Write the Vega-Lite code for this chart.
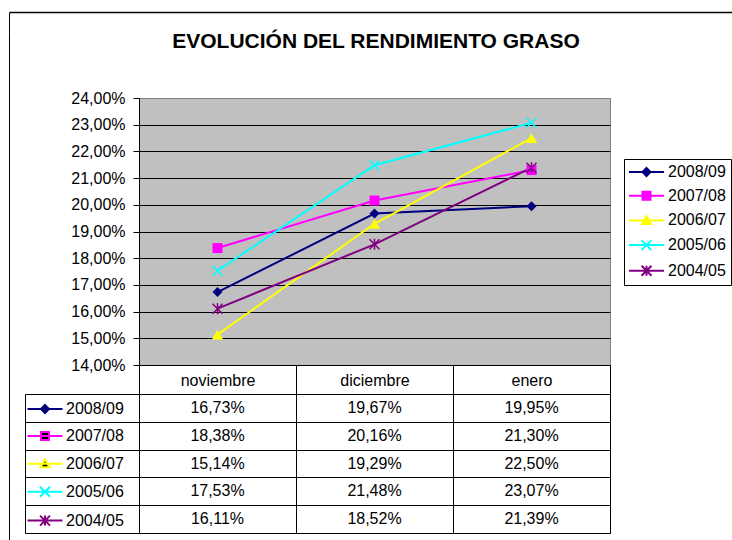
{
  "$schema": "https://vega.github.io/schema/vega-lite/v6.json",
  "padding": {"left": 8, "top": 12, "right": 0, "bottom": 0},
  "background": "white",
  "config": {
    "font": "Liberation Sans",
    "locale": {"number": {"decimal": ",", "thousands": ".", "grouping": [3], "currency": ["", " €"]}},
    "view": {"stroke": null},
    "axis": {"labelFont": "Liberation Sans", "labelColor": "black", "labelFontSize": 16, "domainColor": "black", "tickColor": "black", "gridColor": "black", "gridOpacity": 1, "domainWidth": 1, "tickWidth": 1, "gridWidth": 1},
    "legend": {"labelFont": "Liberation Sans", "labelFontSize": 16, "labelColor": "black"}
  },
  "datasets": {
    "tabla": [
      {"serie": "2008/09", "mes": "noviembre", "valor": 0.1673},
      {"serie": "2008/09", "mes": "diciembre", "valor": 0.1967},
      {"serie": "2008/09", "mes": "enero", "valor": 0.1995},
      {"serie": "2007/08", "mes": "noviembre", "valor": 0.1838},
      {"serie": "2007/08", "mes": "diciembre", "valor": 0.2016},
      {"serie": "2007/08", "mes": "enero", "valor": 0.2130},
      {"serie": "2006/07", "mes": "noviembre", "valor": 0.1514},
      {"serie": "2006/07", "mes": "diciembre", "valor": 0.1929},
      {"serie": "2006/07", "mes": "enero", "valor": 0.2250},
      {"serie": "2005/06", "mes": "noviembre", "valor": 0.1753},
      {"serie": "2005/06", "mes": "diciembre", "valor": 0.2148},
      {"serie": "2005/06", "mes": "enero", "valor": 0.2307},
      {"serie": "2004/05", "mes": "noviembre", "valor": 0.1611},
      {"serie": "2004/05", "mes": "diciembre", "valor": 0.1852},
      {"serie": "2004/05", "mes": "enero", "valor": 0.2139}
    ]
  },
  "spacing": 0,
  "bounds": "flush",
  "vconcat": [
    {
      "width": 724,
      "height": 20,
      "data": {"values": [{}]},
      "mark": {"type": "point", "size": 0, "opacity": 0},
      "encoding": {
        "x": {"datum": "marco", "type": "nominal", "axis": {"orient": "top", "title": null, "labels": false, "ticks": false, "grid": false, "domain": true, "domainColor": "black", "domainWidth": 1.5}},
        "y": {"datum": "marco", "type": "nominal", "axis": {"orient": "left", "title": null, "labels": false, "ticks": false, "grid": false, "domain": true, "domainColor": "black", "domainWidth": 1}}
      },
      "title": {"text": "EVOLUCIÓN DEL RENDIMIENTO GRASO", "orient": "bottom", "anchor": "middle", "offset": -1, "fontSize": 21, "fontWeight": "bold", "font": "Liberation Sans", "color": "black", "dx": 5}
    },
    {
      "spacing": 129,
      "bounds": "flush",
      "hconcat": [
        {
          "width": 0.01,
          "height": 508,
          "data": {"values": [{}]},
          "mark": {"type": "point", "size": 0, "opacity": 0},
          "view": {"stroke": "black", "strokeWidth": 1}
        },
        {
          "spacing": 29,
          "bounds": "flush",
          "resolve": {"scale": {"color": "independent", "stroke": "independent", "fill": "independent", "shape": "independent"}},
          "vconcat": [
            {
              "width": 471,
              "height": 37,
              "data": {"values": [{}]},
              "mark": {"type": "point", "size": 0, "opacity": 0}
            },
            {
              "width": 471,
              "height": 267,
              "data": {"name": "tabla"},
              "view": {"fill": "#C0C0C0", "stroke": "#808080"},
              "encoding": {
                "x": {"field": "mes", "type": "nominal", "sort": ["noviembre", "diciembre", "enero"], "scale": {"paddingInner": 0, "paddingOuter": 0},
                  "axis": {"title": null, "labelAngle": 0, "tickBand": "extent", "tickSize": 29, "labelPadding": -14, "labelBaseline": "middle", "grid": false}},
                "y": {"field": "valor", "type": "quantitative", "scale": {"domain": [0.14, 0.24], "nice": false, "zero": false},
                  "axis": {"title": null, "format": ".2%", "values": [0.14, 0.15, 0.16, 0.17, 0.18, 0.19, 0.2, 0.21, 0.22, 0.23, 0.24], "grid": true, "tickSize": 6, "labelPadding": 8,
                    "gridColor": {"condition": {"test": "datum.value > 0.235", "value": "#808080"}, "value": "black"}}}
              },
              "layer": [
                {
                  "mark": {"type": "line", "strokeWidth": 2},
                  "encoding": {
                    "stroke": {"field": "serie", "type": "nominal",
                      "scale": {"domain": ["2008/09", "2007/08", "2006/07", "2005/06", "2004/05"], "range": ["#000080", "#FF00FF", "#FFFF00", "#00FFFF", "#800080"]},
                      "legend": {
                        "title": null, "orient": "none", "legendX": 485, "legendY": 61,
                        "strokeColor": "black", "fillColor": "white", "padding": 5, "cornerRadius": 0,
                        "symbolSize": 100, "symbolStrokeWidth": 2, "symbolOffset": 9.5, "labelOffset": 13.5, "rowPadding": 7.7,
                        "labelFontSize": 16, "labelColor": "black",
                        "encode": {"symbols": {"update": {
                          "shape": {"signal": "datum.value === '2008/09' ? 'M-3.5,0H3.5M0,-0.8L0.8,0L0,0.8L-0.8,0Z' : datum.value === '2007/08' ? 'M-3.5,0H3.5M-0.8,-0.8H0.8V0.8H-0.8Z' : datum.value === '2006/07' ? 'M-3.5,0H3.5M0,-0.9L0.9,0.7H-0.9Z' : datum.value === '2005/06' ? 'M-3.5,0H3.5M-1,-1L1,1M-1,1L1,-1' : 'M-3.5,0H3.5M-1,-1L1,1M-1,1L1,-1M0,-1V1'"},
                          "fill": {"signal": "datum.value === '2008/09' ? '#000080' : datum.value === '2007/08' ? '#FF00FF' : datum.value === '2006/07' ? '#FFFF00' : datum.value === '2005/06' ? '#00FFFF' : '#800080'"},
                          "stroke": {"signal": "datum.value === '2008/09' ? '#000080' : datum.value === '2007/08' ? '#FF00FF' : datum.value === '2006/07' ? '#FFFF00' : datum.value === '2005/06' ? '#00FFFF' : '#800080'"},
                          "strokeWidth": {"value": 2},
                          "opacity": {"value": 1}
                        }}}
                      }
                    },
                    "order": {"value": null}
                  }
                },
                {
                  "transform": [{"filter": {"field": "serie", "equal": "2008/09"}}],
                  "mark": {"type": "point", "shape": "diamond", "size": 100, "filled": true, "color": "#000080", "opacity": 1}
                },
                {
                  "transform": [{"filter": {"field": "serie", "equal": "2007/08"}}],
                  "mark": {"type": "point", "shape": "square", "size": 100, "filled": true, "color": "#FF00FF", "opacity": 1}
                },
                {
                  "transform": [{"filter": {"field": "serie", "equal": "2006/07"}}],
                  "mark": {"type": "point", "shape": "triangle-up", "size": 130, "filled": true, "color": "#FFFF00", "opacity": 1}
                },
                {
                  "transform": [{"filter": {"field": "serie", "equal": "2005/06"}}],
                  "mark": {"type": "point", "shape": "M-1,-1L1,1M-1,1L1,-1", "size": 100, "filled": false, "strokeWidth": 1.5, "color": "#00FFFF", "opacity": 1}
                },
                {
                  "transform": [{"filter": {"field": "serie", "equal": "2004/05"}}],
                  "mark": {"type": "point", "shape": "M-1,-1L1,1M-1,1L1,-1M0,-1.1V1.1", "size": 100, "filled": false, "strokeWidth": 1.5, "color": "#800080", "opacity": 1}
                }
              ]
            },
            {
              "width": 471,
              "height": 139,
              "data": {"name": "tabla"},
              "view": {"stroke": "black", "strokeWidth": 1},
              "mark": {"type": "text", "fontSize": 16, "align": "center", "baseline": "middle", "font": "Liberation Sans"},
              "encoding": {
                "x": {"field": "mes", "type": "nominal", "sort": ["noviembre", "diciembre", "enero"], "scale": {"paddingInner": 0, "paddingOuter": 0},
                  "axis": {"title": null, "labels": false, "ticks": false, "domain": false, "grid": true, "tickBand": "extent"}},
                "y": {"field": "serie", "type": "nominal", "sort": ["2008/09", "2007/08", "2006/07", "2005/06", "2004/05"], "scale": {"paddingInner": 0, "paddingOuter": 0},
                  "axis": {"title": null, "labels": false, "ticks": true, "tickSize": -114, "offset": 114, "domain": true, "grid": true, "tickBand": "extent"}},
                "text": {"field": "valor", "type": "quantitative", "format": ".2%"},
                "color": {"field": "serie", "type": "nominal",
                  "scale": {"domain": ["2008/09", "2007/08", "2006/07", "2005/06", "2004/05"], "range": ["black", "black", "black", "black", "black"]},
                  "legend": {
                    "title": null, "orient": "none", "legendX": -114, "legendY": 7,
                    "padding": 0, "symbolSize": 100, "symbolStrokeWidth": 2, "symbolOffset": 12, "labelOffset": 13, "rowPadding": 10.9,
                    "labelFontSize": 16, "labelColor": "black",
                    "encode": {"symbols": {"update": {
                      "shape": {"signal": "datum.value === '2008/09' ? 'M-3.5,0H3.5M0,-0.8L0.8,0L0,0.8L-0.8,0Z' : datum.value === '2007/08' ? 'M-3.5,0H3.5M-0.8,-0.8H0.8V0.8H-0.8Z' : datum.value === '2006/07' ? 'M-3.5,0H3.5M0,-0.9L0.9,0.7H-0.9Z' : datum.value === '2005/06' ? 'M-3.5,0H3.5M-1,-1L1,1M-1,1L1,-1' : 'M-3.5,0H3.5M-1,-1L1,1M-1,1L1,-1M0,-1V1'"},
                      "fill": {"signal": "datum.value === '2008/09' ? '#000080' : datum.value === '2007/08' ? '#FF00FF' : datum.value === '2006/07' ? '#FFFF00' : datum.value === '2005/06' ? '#00FFFF' : '#800080'"},
                      "stroke": {"signal": "datum.value === '2008/09' ? '#000080' : datum.value === '2007/08' ? '#FF00FF' : datum.value === '2006/07' ? '#FFFF00' : datum.value === '2005/06' ? '#00FFFF' : '#800080'"},
                      "strokeWidth": {"value": 2},
                      "opacity": {"value": 1}
                    }}}
                  }
                }
              }
            }
          ]
        }
      ]
    }
  ]
}
